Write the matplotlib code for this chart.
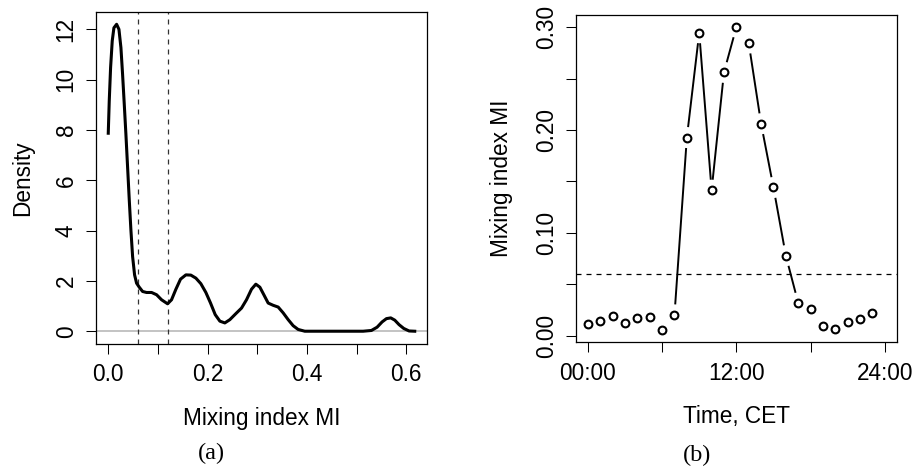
import numpy as np
import matplotlib
matplotlib.use("Agg")
import matplotlib.pyplot as plt

plt.rcParams['font.family'] = ['Liberation Sans', 'DejaVu Sans']

# ---- Panel (a): density of mixing index ----
dens_x = [0.000, 0.0020, 0.0047, 0.0080, 0.0114, 0.0168, 0.0215, 0.0255, 0.0288, 0.0322,
          0.0355, 0.0389, 0.0423, 0.0456, 0.0490, 0.0530, 0.0570, 0.0624, 0.0691, 0.0771,
          0.0872, 0.0973, 0.1073, 0.1194, 0.1274, 0.1362, 0.1455, 0.1563, 0.1663, 0.1764,
          0.1864, 0.1965, 0.2059, 0.2153, 0.2247, 0.2347, 0.2448, 0.2569, 0.2683, 0.2783,
          0.2884, 0.2971, 0.3052, 0.3132, 0.3219, 0.3320, 0.3421, 0.3521, 0.3622, 0.3722,
          0.3823, 0.3957, 0.4326, 0.4728, 0.5131, 0.5298, 0.5412, 0.5513, 0.5600, 0.5687,
          0.5768, 0.5855, 0.5949, 0.6056, 0.6170]
dens_y = [7.87, 9.16, 10.48, 11.54, 12.06, 12.20, 12.00, 11.27, 10.22, 9.03,
          7.84, 6.53, 5.21, 4.02, 2.97, 2.24, 1.91, 1.75, 1.58, 1.54,
          1.54, 1.45, 1.25, 1.09, 1.25, 1.67, 2.07, 2.24, 2.23, 2.11,
          1.89, 1.54, 1.12, 0.66, 0.40, 0.33, 0.46, 0.70, 0.92, 1.25,
          1.67, 1.87, 1.75, 1.45, 1.12, 1.03, 0.96, 0.73, 0.46, 0.22,
          0.07, 0.00, 0.00, 0.00, 0.00, 0.03, 0.16, 0.37, 0.50, 0.53,
          0.44, 0.26, 0.11, 0.01, 0.00]
thresholds = [0.06, 0.12]
a_xticks = [0.0, 0.1, 0.2, 0.3, 0.4, 0.5, 0.6]
a_xticklabels = ["0.0", "", "0.2", "", "0.4", "", "0.6"]
a_yticks = [0, 2, 4, 6, 8, 10, 12]

# ---- Panel (b): hourly mixing index ----
hours = list(range(24))
mi = [0.0113, 0.0142, 0.0194, 0.0123, 0.0175, 0.0184, 0.0055, 0.0201,
      0.1926, 0.2945, 0.1414, 0.2560, 0.3000, 0.2845, 0.2060, 0.1440,
      0.0777, 0.0317, 0.0256, 0.0097, 0.0065, 0.0133, 0.0162, 0.0223]
mi_threshold = 0.06
b_xticks = [0, 6, 12, 18, 24]
b_xticklabels = ["00:00", "", "12:00", "", "24:00"]
b_yticks = [0.00, 0.05, 0.10, 0.15, 0.20, 0.25, 0.30]
b_yticklabels = ["0.00", "", "0.10", "", "0.20", "", "0.30"]

W, H = 915, 467
FS = 16.3
fig = plt.figure(figsize=(W / 100, H / 100), dpi=100)

def px_axes(l, t, r, b):
    return fig.add_axes([l / W, 1 - b / H, (r - l) / W, (b - t) / H])

def style(ax):
    for s in ax.spines.values():
        s.set_linewidth(0.9)
        s.set_color('black')
    ax.tick_params(direction='out', length=7.2, width=0.75, labelsize=FS, colors='black')
    ax.tick_params(axis='x', pad=7)
    ax.tick_params(axis='y', pad=6, labelrotation=90)
    for lab in ax.get_yticklabels():
        lab.set_verticalalignment('center')

def rlim(vals, lo=None, hi=None):
    a = min(vals) if lo is None else lo
    b = max(vals) if hi is None else hi
    p = 0.04 * (b - a)
    return a - p, b + p

# Panel (a)
ax1 = px_axes(96, 12, 427, 343.5)
ax1.axhline(0, color='#bebebe', lw=1.3, zorder=1)
for t in thresholds:
    ax1.axvline(t, color='#333333', lw=0.9, dashes=(4, 4), zorder=2)
ax1.plot(dens_x, dens_y, color='black', lw=2.2, solid_joinstyle='round', zorder=3)
ax1.set_xlim(*rlim(dens_x))
ax1.set_ylim(*rlim(dens_y))
ax1.set_xticks(a_xticks)
ax1.set_xticklabels(a_xticklabels)
ax1.set_yticks(a_yticks)
ax1.set_yticklabels([str(v) for v in a_yticks])
style(ax1)
ax1.set_xlabel("Mixing index MI", fontsize=FS, va='center')
ax1.xaxis.set_label_coords(0.5, (343.5 - 418) / 331.5)
ax1.set_ylabel("Density", fontsize=FS, va='center')
ax1.yaxis.set_label_coords((22.5 - 96) / 331, 0.5)

# Panel (b)
ax2 = px_axes(576, 15, 896.7, 342)
ax2.set_xlim(*rlim(b_xticks, 0, 24))
ax2.set_ylim(*rlim(mi))
ax2.axhline(mi_threshold, color='black', lw=0.9, dashes=(4, 4), zorder=1)
ax2.set_xticks(b_xticks)
ax2.set_xticklabels(b_xticklabels)
ax2.set_yticks(b_yticks)
ax2.set_yticklabels(b_yticklabels)
style(ax2)
ax2.set_xlabel("Time, CET", fontsize=FS, va='center')
ax2.xaxis.set_label_coords(0.5, (342 - 416) / 327)
ax2.set_ylabel("Mixing index MI", fontsize=FS, va='center')
ax2.yaxis.set_label_coords((501.7 - 576) / 320.7, 0.5)

# R type="b": line segments with gaps around the points
gap = 10.5  # pixels
pts = ax2.transData.transform(np.column_stack([hours, mi]))
inv = ax2.transData.inverted()
for p0, p1 in zip(pts[:-1], pts[1:]):
    d = p1 - p0
    L = np.hypot(*d)
    if L > 2 * gap:
        u = d / L
        seg = inv.transform(np.array([p0 + u * gap, p1 - u * gap]))
        ax2.plot(seg[:, 0], seg[:, 1], color='black', lw=1.4, solid_capstyle='butt', zorder=2)
ax2.plot(hours, mi, linestyle='none', marker='o', ms=5.6, mew=1.5,
         mfc='white', mec='black', zorder=3)

fig.text(211.7 / W, 1 - 453 / H, "(a)", fontsize=17.5, ha='center', va='center',
         family=['Liberation Serif', 'DejaVu Serif'])
fig.text(696.7 / W, 1 - 455 / H, "(b)", fontsize=17.5, ha='center', va='center',
         family=['Liberation Serif', 'DejaVu Serif'])

fig.savefig("out.png", dpi=100)
